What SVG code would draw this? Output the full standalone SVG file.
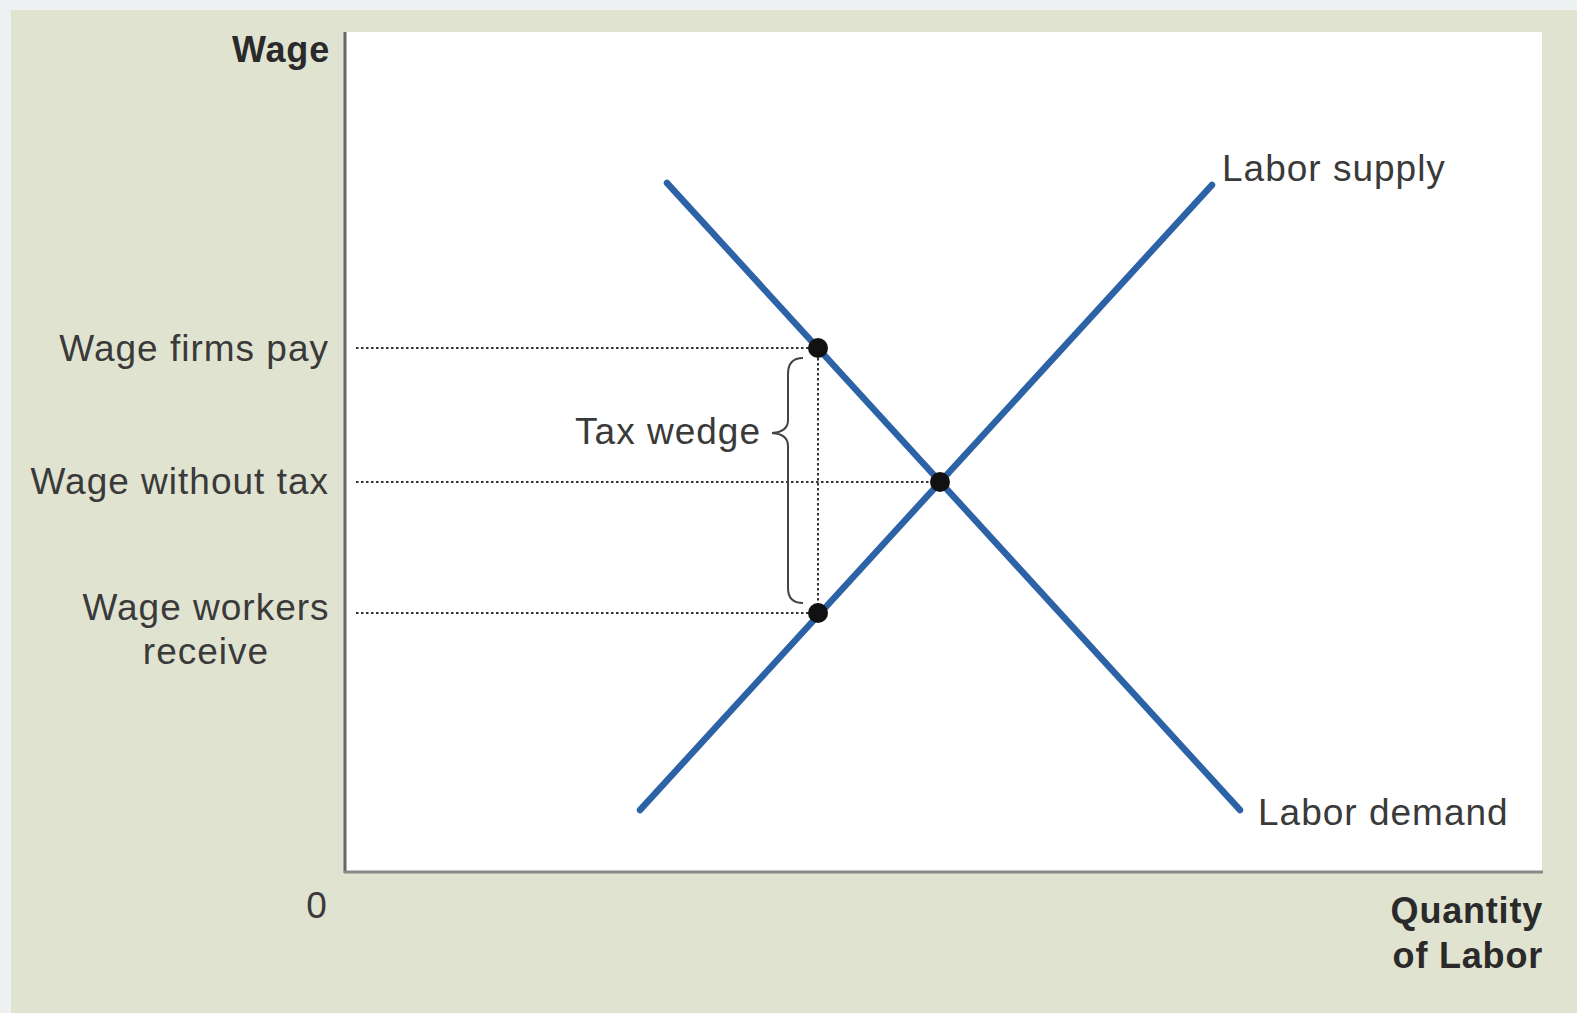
<svg xmlns="http://www.w3.org/2000/svg" width="1577" height="1013" viewBox="0 0 1577 1013">
<style>
.lbl{font-family:"Liberation Sans",Arial,sans-serif;font-size:37px;letter-spacing:1px;fill:#3a3a3a}
.bold{font-family:"Liberation Sans",Arial,sans-serif;font-size:36px;font-weight:bold;letter-spacing:0.8px;fill:#2a2a2a}
.dot{stroke:#333;stroke-width:2;stroke-dasharray:2.5 2.5;fill:none}
.curve{stroke:#2c62a6;stroke-width:6.5;stroke-linecap:round;fill:none}
.pt{fill:#111}
</style>
<rect x="0" y="0" width="1577" height="1013" fill="#eef1f1"/>
<rect x="11" y="10" width="1566" height="1003" fill="#e1e3d1"/>
<rect x="346" y="32" width="1196" height="840" fill="#ffffff"/>
<g id="axes">
<line x1="345" y1="32" x2="345" y2="873" stroke="#666" stroke-width="3"/>
<line x1="344" y1="872" x2="1543" y2="872" stroke="#888" stroke-width="3"/>
</g>
<g id="connectors">
<line class="dot" x1="356" y1="348" x2="818" y2="348"/>
<line class="dot" x1="356" y1="482" x2="940" y2="482"/>
<line class="dot" x1="356" y1="613" x2="818" y2="613"/>
<line class="dot" x1="818" y1="348" x2="818" y2="613"/>
<path d="M803 358 Q788 358 788 374 L788 420 Q788 432 772 433 Q788 434 788 446 L788 588 Q788 603 803 603" stroke="#444" stroke-width="2" fill="none"/>
</g>
<g id="labor-demand">
<line class="curve" x1="667" y1="183" x2="1240" y2="810"/>
<text class="lbl" x="1258" y="825">Labor demand</text>
</g>
<g id="labor-supply">
<line class="curve" x1="640" y1="810" x2="1212" y2="185"/>
<text class="lbl" x="1222" y="181">Labor supply</text>
</g>
<g id="points">
<circle class="pt" cx="818" cy="348" r="10"/>
<circle class="pt" cx="940" cy="482" r="10"/>
<circle class="pt" cx="818" cy="613" r="10"/>
</g>
<g id="labels">
<text class="bold" x="330" y="62" text-anchor="end">Wage</text>
<text class="lbl" x="329" y="361" text-anchor="end">Wage firms pay</text>
<text class="lbl" x="329" y="494" text-anchor="end">Wage without tax</text>
<text class="lbl" x="206" y="620" text-anchor="middle">Wage workers</text>
<text class="lbl" x="206" y="664" text-anchor="middle">receive</text>
<text class="lbl" x="761" y="444" text-anchor="end">Tax wedge</text>
<text class="lbl" x="317" y="918" text-anchor="middle">0</text>
<text class="bold" x="1543" y="923" text-anchor="end">Quantity</text>
<text class="bold" x="1543" y="968" text-anchor="end">of Labor</text>
</g>
</svg>
